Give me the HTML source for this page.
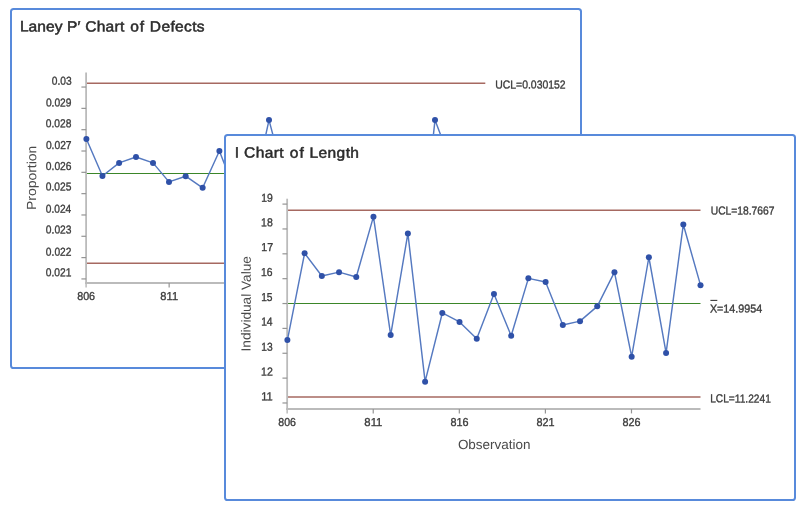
<!DOCTYPE html>
<html lang="en">
<head>
<meta charset="utf-8">
<title>Control charts</title>
<style>
html,body{margin:0;padding:0;background:#ffffff;}
body{width:807px;height:511px;overflow:hidden;position:relative;}
svg{position:absolute;left:0;top:0;display:block;}
text{font-family:"Liberation Sans", sans-serif;text-rendering:geometricPrecision;}
.tick{font-size:11.5px;fill:#3c3c3c;stroke:#3c3c3c;stroke-width:0.35px;}
.title{font-size:14.8px;fill:#2b2b2b;stroke:#2b2b2b;stroke-width:0.5px;paint-order:stroke fill;}
.axl{font-size:13.2px;fill:#4a4a4a;}
.axl2{font-size:13.4px;fill:#4a4a4a;}
</style>
</head>
<body>
<svg width="807" height="511" viewBox="0 0 807 511">
<rect x="11" y="9" width="570" height="359" rx="2.6" ry="2.6" fill="#ffffff" stroke="#588adb" stroke-width="2"/>
<line x1="86.1" y1="83.15" x2="485.3" y2="83.15" stroke="#a66961" stroke-width="1.5"/>
<line x1="86.1" y1="263.15" x2="485.3" y2="263.15" stroke="#a66961" stroke-width="1.5"/>
<line x1="86.1" y1="173.5" x2="485.3" y2="173.5" stroke="#3b8629" stroke-width="1.05"/>
<line x1="86.1" y1="72.6" x2="86.1" y2="283.9" stroke="#bbbbbb" stroke-width="1.8"/>
<line x1="86.1" y1="283" x2="86.1" y2="287.4" stroke="#bbbbbb" stroke-width="1.5"/>
<line x1="85.2" y1="283" x2="485.3" y2="283" stroke="#bbbbbb" stroke-width="1.8"/>
<line x1="81.4" y1="87.05" x2="86.1" y2="87.05" stroke="#949494" stroke-width="1.2"/>
<line x1="81.4" y1="108.37" x2="86.1" y2="108.37" stroke="#949494" stroke-width="1.2"/>
<line x1="81.4" y1="129.69" x2="86.1" y2="129.69" stroke="#949494" stroke-width="1.2"/>
<line x1="81.4" y1="151.01" x2="86.1" y2="151.01" stroke="#949494" stroke-width="1.2"/>
<line x1="81.4" y1="172.33" x2="86.1" y2="172.33" stroke="#949494" stroke-width="1.2"/>
<line x1="81.4" y1="193.65" x2="86.1" y2="193.65" stroke="#949494" stroke-width="1.2"/>
<line x1="81.4" y1="214.97" x2="86.1" y2="214.97" stroke="#949494" stroke-width="1.2"/>
<line x1="81.4" y1="236.29" x2="86.1" y2="236.29" stroke="#949494" stroke-width="1.2"/>
<line x1="81.4" y1="257.61" x2="86.1" y2="257.61" stroke="#949494" stroke-width="1.2"/>
<line x1="81.4" y1="278.93" x2="86.1" y2="278.93" stroke="#949494" stroke-width="1.2"/>
<line x1="169.15" y1="283" x2="169.15" y2="287.4" stroke="#949494" stroke-width="1.2"/>
<line x1="252.2" y1="283" x2="252.2" y2="287.4" stroke="#949494" stroke-width="1.2"/>
<line x1="335.25" y1="283" x2="335.25" y2="287.4" stroke="#949494" stroke-width="1.2"/>
<line x1="418.3" y1="283" x2="418.3" y2="287.4" stroke="#949494" stroke-width="1.2"/>
<polyline points="86.4,138.97 102.45,175.96 119.1,162.9 136,157 153,162.9 169,181.9 185.67,176.2 202.65,187.8 219.4,151 235.8,193.3 252.4,195.8 269,120.1 285.6,182.5 302.2,170 318.8,160 335.4,175 352,168 368.6,180 385.2,158 401.8,172 418.4,273 435,120.1 451.6,164 468.2,175 484.8,170" fill="none" stroke="#5579c0" stroke-width="1.45" stroke-linejoin="round"/>
<circle cx="86.4" cy="138.97" r="3.0" fill="#2f51a8"/>
<circle cx="102.45" cy="175.96" r="3.0" fill="#2f51a8"/>
<circle cx="119.1" cy="162.9" r="3.0" fill="#2f51a8"/>
<circle cx="136" cy="157" r="3.0" fill="#2f51a8"/>
<circle cx="153" cy="162.9" r="3.0" fill="#2f51a8"/>
<circle cx="169" cy="181.9" r="3.0" fill="#2f51a8"/>
<circle cx="185.67" cy="176.2" r="3.0" fill="#2f51a8"/>
<circle cx="202.65" cy="187.8" r="3.0" fill="#2f51a8"/>
<circle cx="219.4" cy="151" r="3.0" fill="#2f51a8"/>
<circle cx="235.8" cy="193.3" r="3.0" fill="#2f51a8"/>
<circle cx="252.4" cy="195.8" r="3.0" fill="#2f51a8"/>
<circle cx="269" cy="120.1" r="3.0" fill="#2f51a8"/>
<circle cx="285.6" cy="182.5" r="3.0" fill="#2f51a8"/>
<circle cx="302.2" cy="170" r="3.0" fill="#2f51a8"/>
<circle cx="318.8" cy="160" r="3.0" fill="#2f51a8"/>
<circle cx="335.4" cy="175" r="3.0" fill="#2f51a8"/>
<circle cx="352" cy="168" r="3.0" fill="#2f51a8"/>
<circle cx="368.6" cy="180" r="3.0" fill="#2f51a8"/>
<circle cx="385.2" cy="158" r="3.0" fill="#2f51a8"/>
<circle cx="401.8" cy="172" r="3.0" fill="#2f51a8"/>
<circle cx="418.4" cy="273" r="3.0" fill="#2f51a8"/>
<circle cx="435" cy="120.1" r="3.0" fill="#2f51a8"/>
<circle cx="451.6" cy="164" r="3.0" fill="#2f51a8"/>
<circle cx="468.2" cy="175" r="3.0" fill="#2f51a8"/>
<circle cx="484.8" cy="170" r="3.0" fill="#2f51a8"/>
<text class="title" transform="translate(0 31.35) rotate(0.06) scale(1.05 1)"><tspan x="18.97" letter-spacing="0.040px">Laney</tspan> <tspan x="63.74" letter-spacing="0.000px">P</tspan><tspan x="73.91" letter-spacing="0.000px">&#8242;</tspan> <tspan x="81.13" letter-spacing="0.247px">Chart</tspan> <tspan x="124.11" letter-spacing="0.711px">of</tspan> <tspan x="142.74" letter-spacing="0.318px">Defects</tspan></text>
<text class="tick" transform="translate(51.84 84.7) rotate(0.06) scale(0.8873 1)">0.03</text>
<text class="tick" transform="translate(45.88 106.5) rotate(0.06) scale(0.8875 1)">0.029</text>
<text class="tick" transform="translate(45.85 127.2) rotate(0.06) scale(0.8885 1)">0.028</text>
<text class="tick" transform="translate(45.89 149) rotate(0.06) scale(0.8910 1)">0.027</text>
<text class="tick" transform="translate(45.82 169.9) rotate(0.06) scale(0.8923 1)">0.026</text>
<text class="tick" transform="translate(45.82 190.5) rotate(0.06) scale(0.8896 1)">0.025</text>
<text class="tick" transform="translate(45.86 212.7) rotate(0.06) scale(0.8823 1)">0.024</text>
<text class="tick" transform="translate(45.84 233.5) rotate(0.06) scale(0.8917 1)">0.023</text>
<text class="tick" transform="translate(45.87 255.7) rotate(0.06) scale(0.8878 1)">0.022</text>
<text class="tick" transform="translate(45.81 276.3) rotate(0.06) scale(0.8906 1)">0.021</text>
<text class="tick" transform="translate(77.21 300) rotate(0.06) scale(0.9313 1)">806</text>
<text class="tick" transform="translate(160.37 300) rotate(0.06) scale(0.9638 1)">811</text>
<text class="tick" transform="translate(243.42 300) rotate(0.06) scale(0.9209 1)">816</text>
<text class="tick" transform="translate(326.47 300) rotate(0.06) scale(0.9209 1)">821</text>
<text class="tick" transform="translate(409.52 300) rotate(0.06) scale(0.9209 1)">826</text>
<text class="tick" transform="translate(495.22 88.55) rotate(0.06) scale(0.9067 1)">UCL=0.030152</text>
<text class="axl" transform="translate(36.1 210.01) rotate(-89.94) scale(1.0568 1)">Proportion</text>
<rect x="225" y="135" width="570" height="365" rx="2.6" ry="2.6" fill="#ffffff" stroke="#588adb" stroke-width="2"/>
<line x1="287.15" y1="210.15" x2="700.5" y2="210.15" stroke="#a66961" stroke-width="1.5"/>
<line x1="287.15" y1="397.1" x2="700.5" y2="397.1" stroke="#a66961" stroke-width="1.5"/>
<line x1="287.15" y1="303.5" x2="700.5" y2="303.5" stroke="#3b8629" stroke-width="1.05"/>
<line x1="287.15" y1="198.7" x2="287.15" y2="409.9" stroke="#bbbbbb" stroke-width="1.8"/>
<line x1="287.15" y1="409" x2="287.15" y2="413.4" stroke="#bbbbbb" stroke-width="1.5"/>
<line x1="286.25" y1="409" x2="700.5" y2="409" stroke="#bbbbbb" stroke-width="1.8"/>
<line x1="282.45" y1="204.1" x2="287.15" y2="204.1" stroke="#949494" stroke-width="1.2"/>
<line x1="282.45" y1="228.96" x2="287.15" y2="228.96" stroke="#949494" stroke-width="1.2"/>
<line x1="282.45" y1="253.82" x2="287.15" y2="253.82" stroke="#949494" stroke-width="1.2"/>
<line x1="282.45" y1="278.68" x2="287.15" y2="278.68" stroke="#949494" stroke-width="1.2"/>
<line x1="282.45" y1="303.54" x2="287.15" y2="303.54" stroke="#949494" stroke-width="1.2"/>
<line x1="282.45" y1="328.4" x2="287.15" y2="328.4" stroke="#949494" stroke-width="1.2"/>
<line x1="282.45" y1="353.26" x2="287.15" y2="353.26" stroke="#949494" stroke-width="1.2"/>
<line x1="282.45" y1="378.12" x2="287.15" y2="378.12" stroke="#949494" stroke-width="1.2"/>
<line x1="282.45" y1="402.98" x2="287.15" y2="402.98" stroke="#949494" stroke-width="1.2"/>
<line x1="373.23" y1="409" x2="373.23" y2="413.4" stroke="#949494" stroke-width="1.2"/>
<line x1="459.32" y1="409" x2="459.32" y2="413.4" stroke="#949494" stroke-width="1.2"/>
<line x1="545.4" y1="409" x2="545.4" y2="413.4" stroke="#949494" stroke-width="1.2"/>
<line x1="631.49" y1="409" x2="631.49" y2="413.4" stroke="#949494" stroke-width="1.2"/>
<polyline points="287.4,340.05 304.61,253.25 321.83,276.05 339.04,272.15 356.25,277.05 373.46,216.65 390.68,335.05 407.89,233.45 425.1,381.65 442.32,312.95 459.53,321.95 476.74,338.75 493.96,293.95 511.17,335.75 528.38,278.35 545.6,282.05 562.81,324.95 580.02,321.15 597.23,306.35 614.45,272.15 631.66,356.65 648.87,257.25 666.09,352.95 683.3,224.55 700.51,285.15" fill="none" stroke="#5579c0" stroke-width="1.45" stroke-linejoin="round"/>
<circle cx="287.4" cy="340.05" r="3.0" fill="#2f51a8"/>
<circle cx="304.61" cy="253.25" r="3.0" fill="#2f51a8"/>
<circle cx="321.83" cy="276.05" r="3.0" fill="#2f51a8"/>
<circle cx="339.04" cy="272.15" r="3.0" fill="#2f51a8"/>
<circle cx="356.25" cy="277.05" r="3.0" fill="#2f51a8"/>
<circle cx="373.46" cy="216.65" r="3.0" fill="#2f51a8"/>
<circle cx="390.68" cy="335.05" r="3.0" fill="#2f51a8"/>
<circle cx="407.89" cy="233.45" r="3.0" fill="#2f51a8"/>
<circle cx="425.1" cy="381.65" r="3.0" fill="#2f51a8"/>
<circle cx="442.32" cy="312.95" r="3.0" fill="#2f51a8"/>
<circle cx="459.53" cy="321.95" r="3.0" fill="#2f51a8"/>
<circle cx="476.74" cy="338.75" r="3.0" fill="#2f51a8"/>
<circle cx="493.96" cy="293.95" r="3.0" fill="#2f51a8"/>
<circle cx="511.17" cy="335.75" r="3.0" fill="#2f51a8"/>
<circle cx="528.38" cy="278.35" r="3.0" fill="#2f51a8"/>
<circle cx="545.6" cy="282.05" r="3.0" fill="#2f51a8"/>
<circle cx="562.81" cy="324.95" r="3.0" fill="#2f51a8"/>
<circle cx="580.02" cy="321.15" r="3.0" fill="#2f51a8"/>
<circle cx="597.23" cy="306.35" r="3.0" fill="#2f51a8"/>
<circle cx="614.45" cy="272.15" r="3.0" fill="#2f51a8"/>
<circle cx="631.66" cy="356.65" r="3.0" fill="#2f51a8"/>
<circle cx="648.87" cy="257.25" r="3.0" fill="#2f51a8"/>
<circle cx="666.09" cy="352.95" r="3.0" fill="#2f51a8"/>
<circle cx="683.3" cy="224.55" r="3.0" fill="#2f51a8"/>
<circle cx="700.51" cy="285.15" r="3.0" fill="#2f51a8"/>
<text class="title" transform="translate(0 157.35) rotate(0.06) scale(1.05 1)"><tspan x="223.5" letter-spacing="0.000px">I</tspan> <tspan x="232.5" letter-spacing="0.373px">Chart</tspan> <tspan x="276.07" letter-spacing="0.944px">of</tspan> <tspan x="294.7" letter-spacing="0.394px">Length</tspan></text>
<text class="tick" transform="translate(261.23 201.7) rotate(0.06) scale(0.8998 1)">19</text>
<text class="tick" transform="translate(261.1 226.3) rotate(0.06) scale(0.9123 1)">18</text>
<text class="tick" transform="translate(261.25 250.9) rotate(0.06) scale(0.9209 1)">17</text>
<text class="tick" transform="translate(261.09 276) rotate(0.06) scale(0.8998 1)">16</text>
<text class="tick" transform="translate(261.15 300.9) rotate(0.06) scale(0.8897 1)">15</text>
<text class="tick" transform="translate(261.14 325.6) rotate(0.06) scale(0.8928 1)">14</text>
<text class="tick" transform="translate(261.3 350.65) rotate(0.06) scale(0.8889 1)">13</text>
<text class="tick" transform="translate(261.07 375.4) rotate(0.06) scale(0.9170 1)">12</text>
<text class="tick" transform="translate(261.23 400.3) rotate(0.06) scale(0.9692 1)">11</text>
<text class="tick" transform="translate(278.33 426.1) rotate(0.06) scale(0.9194 1)">806</text>
<text class="tick" transform="translate(364.34 426.1) rotate(0.06) scale(0.9829 1)">811</text>
<text class="tick" transform="translate(450.39 426.1) rotate(0.06) scale(0.9423 1)">816</text>
<text class="tick" transform="translate(536.46 426.1) rotate(0.06) scale(0.9433 1)">821</text>
<text class="tick" transform="translate(622.39 426.1) rotate(0.06) scale(0.9381 1)">826</text>
<text class="tick" transform="translate(710.71 214.4) rotate(0.06) scale(0.8942 1)">UCL=18.7667</text>
<text class="tick" transform="translate(709.9 312.55) rotate(0.06) scale(0.9336 1)">X=14.9954</text>
<text class="tick" transform="translate(710.19 402.35) rotate(0.06) scale(0.8843 1)">LCL=11.2241</text>
<text class="axl" transform="translate(250.6 351.46) rotate(-89.94) scale(1.0355 1)">Individual Value</text>
<text class="axl2" transform="translate(457.89 449) rotate(0.06) scale(1.0057 1)">Observation</text>
<line x1="710.4" y1="300.4" x2="717.3" y2="300.4" stroke="#3c3c3c" stroke-width="1.1"/>
</svg>
</body>
</html>
